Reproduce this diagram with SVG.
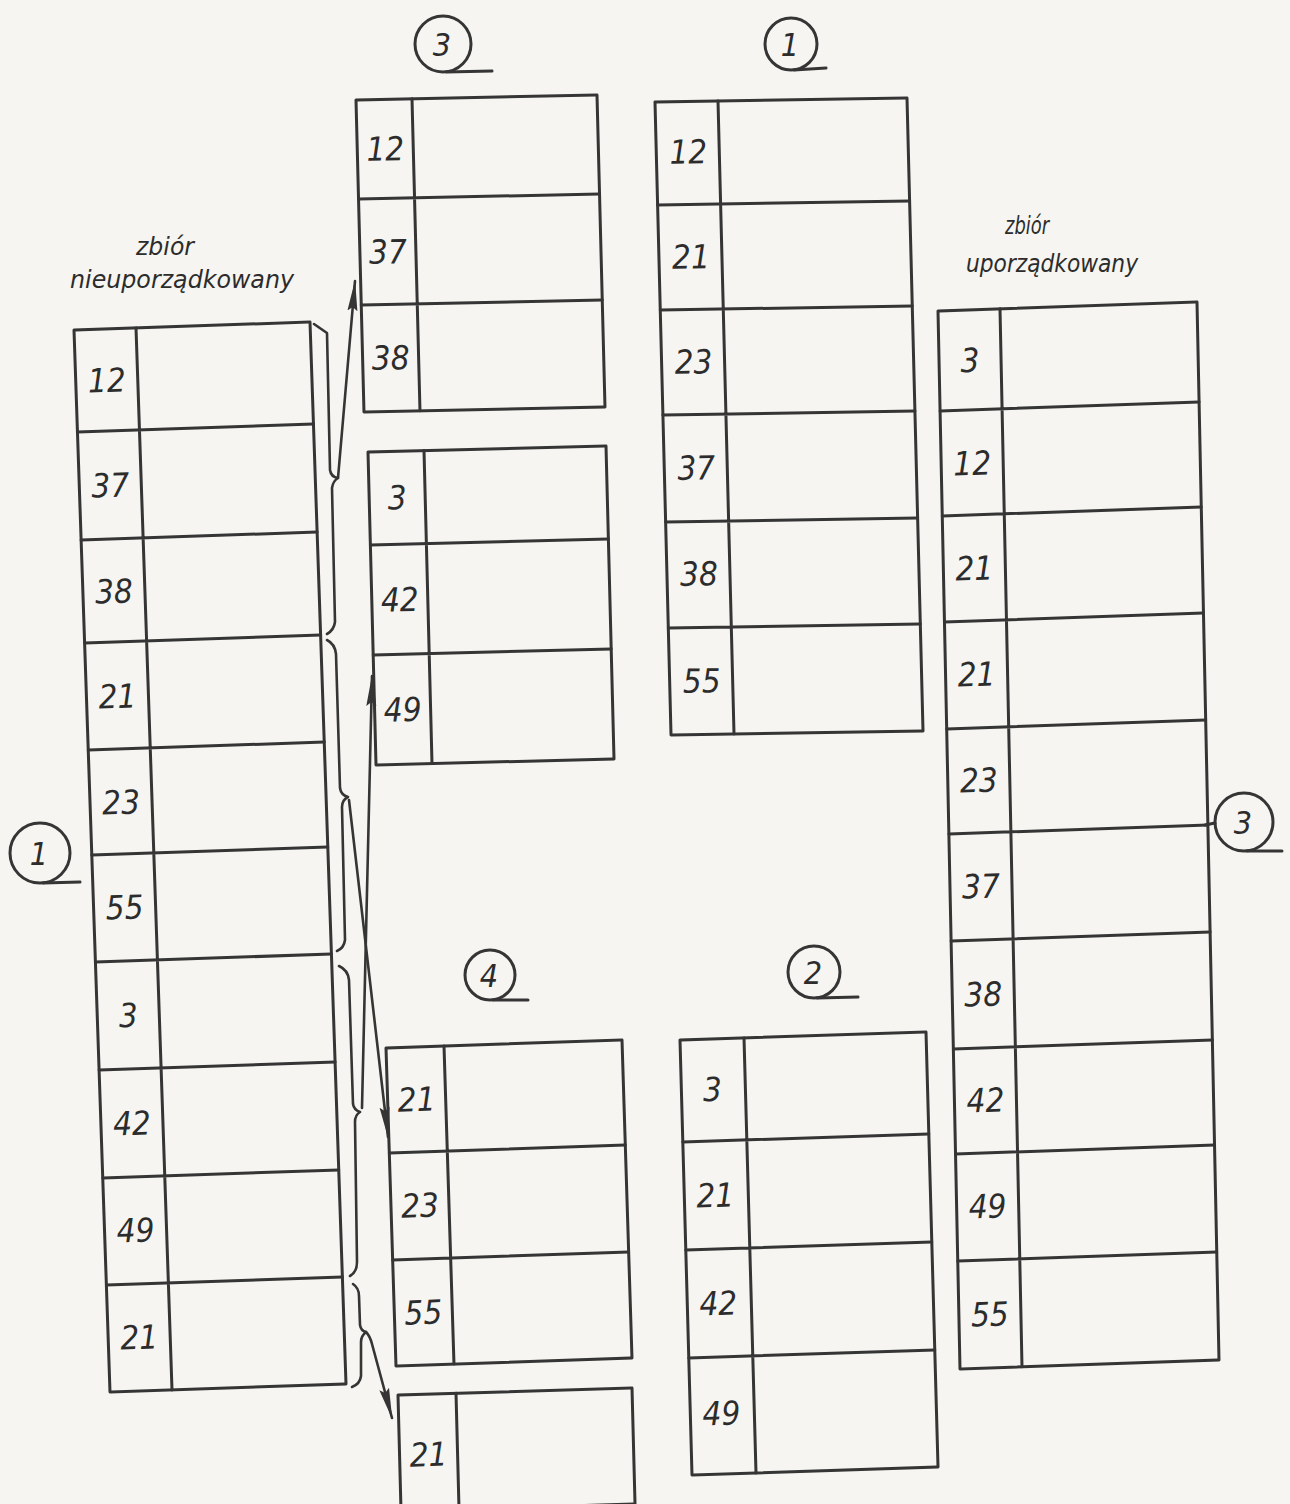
<svg xmlns="http://www.w3.org/2000/svg" width="1290" height="1504" viewBox="0 0 1290 1504">
<style>
.bg{fill:#f6f5f1}
.t{fill:none;stroke:#353535;stroke-width:3;stroke-linejoin:round;stroke-linecap:round}
.n{font-family:"DejaVu Sans Condensed","DejaVu Sans","Liberation Sans",sans-serif;font-style:oblique;font-size:33px;fill:#2c2c2c;text-anchor:middle}
.h{font-family:"DejaVu Sans Condensed","DejaVu Sans","Liberation Sans",sans-serif;font-style:oblique;font-size:25px;fill:#2c2c2c}
.c{fill:none;stroke:#353535;stroke-width:3;stroke-linecap:round}
.cn{font-family:"DejaVu Sans Condensed","DejaVu Sans","Liberation Sans",sans-serif;font-style:oblique;font-size:32px;fill:#2c2c2c;text-anchor:middle}
.k{fill:none;stroke:#353535;stroke-width:2.6;stroke-linecap:round;stroke-linejoin:round}
</style>
<defs>
<marker id="ah" markerUnits="userSpaceOnUse" markerWidth="34" markerHeight="14" refX="30" refY="6" orient="auto">
<path d="M0,1 L31,6 L0,11 L4,6 Z" fill="#353535"/>
</marker>
</defs>
<rect class="bg" x="0" y="0" width="1290" height="1504"/>

<!-- headings -->
<g id="heading-left">
<text class="h" x="136" y="255" textLength="58" lengthAdjust="spacingAndGlyphs">zbiór</text>
<text class="h" x="70" y="288" textLength="224" lengthAdjust="spacingAndGlyphs">nieuporządkowany</text>
</g>
<g id="heading-right">
<text class="h" x="1005" y="234" textLength="44" lengthAdjust="spacingAndGlyphs">zbiór</text>
<text class="h" x="966" y="272" textLength="172" lengthAdjust="spacingAndGlyphs">uporządkowany</text>
</g>

<!-- Table A: unordered set -->
<g id="table-unordered" transform="matrix(1,-0.0339,0.0339,1,74,330)">
<rect class="t" x="0" y="0" width="236" height="1062"/>
<path class="t" d="M62,0V1062 M0,102H236 M0,210H236 M0,313H236 M0,420H236 M0,525H236 M0,632H236 M0,740H236 M0,848H236 M0,955H236"/>
<text class="n" x="31" y="63">12</text>
<text class="n" x="31" y="168">37</text>
<text class="n" x="31" y="274">38</text>
<text class="n" x="31" y="379">21</text>
<text class="n" x="31" y="485">23</text>
<text class="n" x="31" y="590">55</text>
<text class="n" x="31" y="698">3</text>
<text class="n" x="31" y="806">42</text>
<text class="n" x="31" y="913">49</text>
<text class="n" x="31" y="1020">21</text>
</g>

<!-- Table B -->
<g id="table-b" transform="matrix(1,-0.0207,0.0256,1,356,100)">
<rect class="t" x="0" y="0" width="241" height="312"/>
<path class="t" d="M56,0V312 M0,99H241 M0,205H241"/>
<text class="n" x="28" y="61">12</text>
<text class="n" x="28" y="164">37</text>
<text class="n" x="28" y="270">38</text>
</g>

<!-- Table C -->
<g id="table-c" transform="matrix(1,-0.0252,0.0256,1,368,452)">
<rect class="t" x="0" y="0" width="238" height="313"/>
<path class="t" d="M56,0V313 M0,93H238 M0,203H238"/>
<text class="n" x="28" y="58">3</text>
<text class="n" x="28" y="160">42</text>
<text class="n" x="28" y="270">49</text>
</g>

<!-- Table D -->
<g id="table-d" transform="matrix(1,-0.0159,0.0253,1,655,102)">
<rect class="t" x="0" y="0" width="252" height="633"/>
<path class="t" d="M63,0V633 M0,103H252 M0,208H252 M0,313H252 M0,420H252 M0,526H252"/>
<text class="n" x="32" y="62">12</text>
<text class="n" x="32" y="167">21</text>
<text class="n" x="32" y="272">23</text>
<text class="n" x="32" y="378">37</text>
<text class="n" x="32" y="484">38</text>
<text class="n" x="32" y="591">55</text>
</g>

<!-- Table E: ordered set -->
<g id="table-ordered" transform="matrix(1,-0.0347,0.0208,1,938,311)">
<rect class="t" x="0" y="0" width="259" height="1058"/>
<path class="t" d="M62,0V1058 M0,100H259 M0,205H259 M0,311H259 M0,418H259 M0,523H259 M0,630H259 M0,738H259 M0,843H259 M0,950H259"/>
<text class="n" x="31" y="62">3</text>
<text class="n" x="31" y="165">12</text>
<text class="n" x="31" y="270">21</text>
<text class="n" x="31" y="376">21</text>
<text class="n" x="31" y="482">23</text>
<text class="n" x="31" y="588">37</text>
<text class="n" x="31" y="696">38</text>
<text class="n" x="31" y="802">42</text>
<text class="n" x="31" y="908">49</text>
<text class="n" x="31" y="1016">55</text>
</g>

<!-- Table F -->
<g id="table-f" transform="matrix(1,-0.0339,0.0314,1,386,1048)">
<rect class="t" x="0" y="0" width="236" height="318"/>
<path class="t" d="M58,0V318 M0,105H236 M0,212H236"/>
<text class="n" x="29" y="64">21</text>
<text class="n" x="29" y="170">23</text>
<text class="n" x="29" y="277">55</text>
</g>

<!-- Table G -->
<g id="table-g" transform="matrix(1,-0.03,0.026,1,398,1395)">
<rect class="t" x="0" y="0" width="234" height="116"/>
<path class="t" d="M58,0V116"/>
<text class="n" x="29" y="72">21</text>
</g>

<!-- Table H -->
<g id="table-h" transform="matrix(1,-0.0325,0.0276,1,680,1040)">
<rect class="t" x="0" y="0" width="246" height="435"/>
<path class="t" d="M64,0V435 M0,102H246 M0,210H246 M0,318H246"/>
<text class="n" x="31" y="62">3</text>
<text class="n" x="31" y="168">21</text>
<text class="n" x="31" y="276">42</text>
<text class="n" x="31" y="386">49</text>
</g>

<!-- circled labels -->
<g id="label-top-3">
<circle class="c" cx="443" cy="44" r="28"/>
<path class="c" d="M446,72 L492,71"/>
<text class="cn" x="442" y="56">3</text>
</g>
<g id="label-top-1">
<circle class="c" cx="791" cy="44" r="26"/>
<path class="c" d="M794,70 L826,68"/>
<text class="cn" x="790" y="56">1</text>
</g>
<g id="label-left-1">
<circle class="c" cx="40" cy="853" r="30"/>
<path class="c" d="M43,883 L80,882"/>
<text class="cn" x="39" y="865">1</text>
</g>
<g id="label-right-3">
<circle class="c" cx="1244" cy="822" r="29"/>
<path class="c" d="M1247,851 L1282,851 M1205,825 L1215,823"/>
<text class="cn" x="1243" y="834">3</text>
</g>
<g id="label-4">
<circle class="c" cx="490" cy="975" r="25"/>
<path class="c" d="M493,1000 L528,1000"/>
<text class="cn" x="489" y="987">4</text>
</g>
<g id="label-2">
<circle class="c" cx="814" cy="972" r="26"/>
<path class="c" d="M817,998 L858,997"/>
<text class="cn" x="813" y="984">2</text>
</g>

<!-- connectors: brackets and arrows -->
<g id="connectors">
<path class="k" d="M314,324 L327,333 L330,470 Q331,477 338,478 Q333,481 332,488 L335,622 Q334,630 327,634"/>
<path class="k" d="M327,640 Q335,644 336,654 L340,788 Q341,795 348,797 Q342,800 342,807 L345,940 Q344,948 337,951"/>
<path class="k" d="M339,966 Q348,970 349,980 L353,1104 Q354,1110 360,1112 Q355,1115 355,1122 L357,1262 Q357,1272 350,1276"/>
<path class="k" d="M353,1284 Q359,1288 359,1296 L360,1325 Q361,1331 366,1332 Q361,1336 361,1342 L361,1376 Q360,1384 352,1387"/>
<path class="k" d="M338,478 L355,281" marker-end="url(#ah)"/>
<path class="k" d="M349,800 L388,1137" marker-end="url(#ah)"/>
<path class="k" d="M362,1108 L372,676" marker-end="url(#ah)"/>
<path class="k" d="M366,1332 Q370,1336 372,1344 L392,1418" marker-end="url(#ah)"/>
</g>
</svg>
